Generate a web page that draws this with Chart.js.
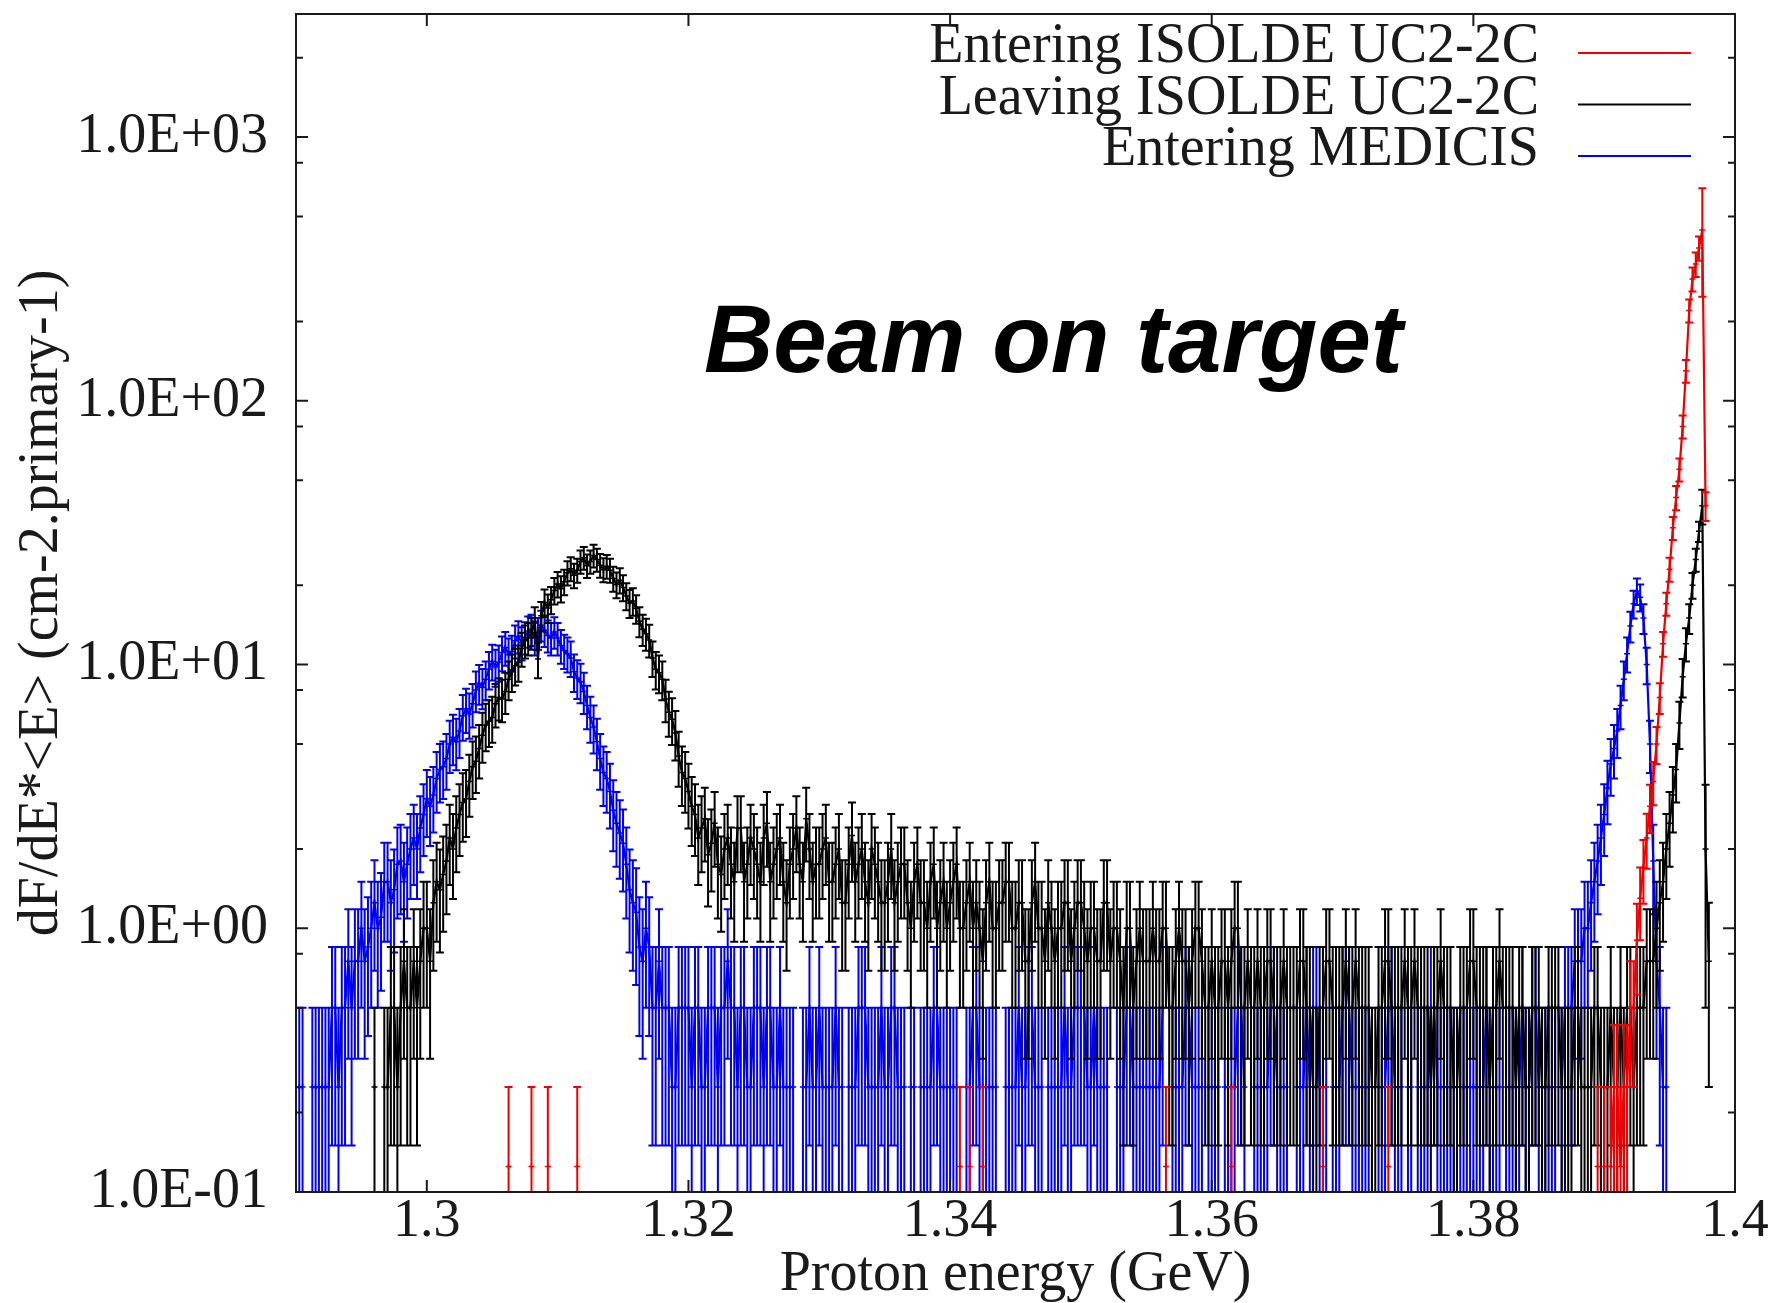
<!DOCTYPE html>
<html>
<head>
<meta charset="utf-8">
<title>Beam on target - proton energy</title>
<script src="https://cdn.jsdelivr.net/npm/chart.js@4.4.1/dist/chart.umd.min.js"></script>
<style>
  html, body { margin: 0; padding: 0; background: #fff; }
  #wrap { width: 1770px; height: 1303px; }
</style>
</head>
<body>
<div id="wrap"><canvas id="spectrum" width="1770" height="1303"></canvas></div>
<script>
// ------------------ DATA ------------------
// Proton energy (GeV), one value per bin (20 bins per row)
const energy = [
  1.29000,1.29025,1.29050,1.29075,1.29100,1.29125,1.29150,1.29175,1.29200,1.29225,1.29250,1.29275,1.29300,1.29325,1.29350,1.29375,1.29400,1.29425,1.29450,1.29475,
  1.29500,1.29525,1.29550,1.29575,1.29600,1.29625,1.29650,1.29675,1.29700,1.29725,1.29750,1.29775,1.29800,1.29825,1.29850,1.29875,1.29900,1.29925,1.29950,1.29975,
  1.30000,1.30025,1.30050,1.30075,1.30100,1.30125,1.30150,1.30175,1.30200,1.30225,1.30250,1.30275,1.30300,1.30325,1.30350,1.30375,1.30400,1.30425,1.30450,1.30475,
  1.30500,1.30525,1.30550,1.30575,1.30600,1.30625,1.30650,1.30675,1.30700,1.30725,1.30750,1.30775,1.30800,1.30825,1.30850,1.30875,1.30900,1.30925,1.30950,1.30975,
  1.31000,1.31025,1.31050,1.31075,1.31100,1.31125,1.31150,1.31175,1.31200,1.31225,1.31250,1.31275,1.31300,1.31325,1.31350,1.31375,1.31400,1.31425,1.31450,1.31475,
  1.31500,1.31525,1.31550,1.31575,1.31600,1.31625,1.31650,1.31675,1.31700,1.31725,1.31750,1.31775,1.31800,1.31825,1.31850,1.31875,1.31900,1.31925,1.31950,1.31975,
  1.32000,1.32025,1.32050,1.32075,1.32100,1.32125,1.32150,1.32175,1.32200,1.32225,1.32250,1.32275,1.32300,1.32325,1.32350,1.32375,1.32400,1.32425,1.32450,1.32475,
  1.32500,1.32525,1.32550,1.32575,1.32600,1.32625,1.32650,1.32675,1.32700,1.32725,1.32750,1.32775,1.32800,1.32825,1.32850,1.32875,1.32900,1.32925,1.32950,1.32975,
  1.33000,1.33025,1.33050,1.33075,1.33100,1.33125,1.33150,1.33175,1.33200,1.33225,1.33250,1.33275,1.33300,1.33325,1.33350,1.33375,1.33400,1.33425,1.33450,1.33475,
  1.33500,1.33525,1.33550,1.33575,1.33600,1.33625,1.33650,1.33675,1.33700,1.33725,1.33750,1.33775,1.33800,1.33825,1.33850,1.33875,1.33900,1.33925,1.33950,1.33975,
  1.34000,1.34025,1.34050,1.34075,1.34100,1.34125,1.34150,1.34175,1.34200,1.34225,1.34250,1.34275,1.34300,1.34325,1.34350,1.34375,1.34400,1.34425,1.34450,1.34475,
  1.34500,1.34525,1.34550,1.34575,1.34600,1.34625,1.34650,1.34675,1.34700,1.34725,1.34750,1.34775,1.34800,1.34825,1.34850,1.34875,1.34900,1.34925,1.34950,1.34975,
  1.35000,1.35025,1.35050,1.35075,1.35100,1.35125,1.35150,1.35175,1.35200,1.35225,1.35250,1.35275,1.35300,1.35325,1.35350,1.35375,1.35400,1.35425,1.35450,1.35475,
  1.35500,1.35525,1.35550,1.35575,1.35600,1.35625,1.35650,1.35675,1.35700,1.35725,1.35750,1.35775,1.35800,1.35825,1.35850,1.35875,1.35900,1.35925,1.35950,1.35975,
  1.36000,1.36025,1.36050,1.36075,1.36100,1.36125,1.36150,1.36175,1.36200,1.36225,1.36250,1.36275,1.36300,1.36325,1.36350,1.36375,1.36400,1.36425,1.36450,1.36475,
  1.36500,1.36525,1.36550,1.36575,1.36600,1.36625,1.36650,1.36675,1.36700,1.36725,1.36750,1.36775,1.36800,1.36825,1.36850,1.36875,1.36900,1.36925,1.36950,1.36975,
  1.37000,1.37025,1.37050,1.37075,1.37100,1.37125,1.37150,1.37175,1.37200,1.37225,1.37250,1.37275,1.37300,1.37325,1.37350,1.37375,1.37400,1.37425,1.37450,1.37475,
  1.37500,1.37525,1.37550,1.37575,1.37600,1.37625,1.37650,1.37675,1.37700,1.37725,1.37750,1.37775,1.37800,1.37825,1.37850,1.37875,1.37900,1.37925,1.37950,1.37975,
  1.38000,1.38025,1.38050,1.38075,1.38100,1.38125,1.38150,1.38175,1.38200,1.38225,1.38250,1.38275,1.38300,1.38325,1.38350,1.38375,1.38400,1.38425,1.38450,1.38475,
  1.38500,1.38525,1.38550,1.38575,1.38600,1.38625,1.38650,1.38675,1.38700,1.38725,1.38750,1.38775,1.38800,1.38825,1.38850,1.38875,1.38900,1.38925,1.38950,1.38975,
  1.39000,1.39025,1.39050,1.39075,1.39100,1.39125,1.39150,1.39175,1.39200,1.39225,1.39250,1.39275,1.39300,1.39325,1.39350,1.39375,1.39400,1.39425,1.39450,1.39475,
  1.39500,1.39525,1.39550,1.39575,1.39600,1.39625,1.39650,1.39675,1.39700,1.39725,1.39750,1.39775,1.39800,1.39825,1.39850,1.39875,1.39900,1.39925,1.39950,1.39975
];

// Entering ISOLDE UC2-2C (red)
const enteringIsoldeFlux = [
  null,null,null,null,null,null,null,null,null,null,null,null,null,null,null,null,null,null,null,null,
  null,null,null,null,null,null,null,null,null,null,null,null,null,null,null,null,null,null,null,null,
  null,null,null,null,null,null,null,null,null,null,null,null,null,null,null,null,null,null,null,null,
  null,null,null,null,null,0.125,null,null,null,null,null,null,0.125,null,null,null,null,0.125,null,null,
  null,null,null,null,null,null,0.125,null,null,null,null,null,null,null,null,null,null,null,null,null,
  null,null,null,null,null,null,null,null,null,null,null,null,null,null,null,null,null,null,null,null,
  null,null,null,null,null,null,null,null,null,null,null,null,null,null,null,null,null,null,null,null,
  null,null,null,null,null,null,null,null,null,null,null,null,null,null,null,null,null,null,null,null,
  null,null,null,null,null,null,null,null,null,null,null,null,null,null,null,null,null,null,null,null,
  null,null,null,null,null,null,null,null,null,null,null,null,null,null,null,null,null,null,null,null,
  null,null,null,0.125,null,null,0.125,null,null,null,0.125,null,null,null,null,null,null,null,null,null,
  null,null,null,null,null,null,null,null,null,null,null,null,null,null,null,null,null,null,null,null,
  null,null,null,null,null,null,null,null,null,null,null,null,null,null,null,null,null,null,null,null,
  null,null,null,null,null,null,0.125,null,null,null,null,null,null,null,null,null,null,null,null,null,
  null,null,null,null,null,null,0.125,null,null,null,null,null,null,null,null,null,null,null,null,null,
  null,null,null,null,null,null,null,null,null,null,null,null,null,null,0.125,null,null,null,null,null,
  null,null,null,null,null,null,null,null,null,null,null,null,null,null,0.125,null,null,null,null,null,
  null,null,null,null,null,null,null,null,null,null,null,null,null,null,null,null,null,null,null,null,
  null,null,null,null,null,null,null,null,null,null,null,null,null,null,null,null,null,null,null,null,
  null,null,null,null,null,null,null,null,null,null,null,null,null,null,null,null,null,null,0.125,null,
  0.125,null,0.125,0.25,0.25,0.125,0.25,0.25,0.5,0.5,0.9,1.3,1.7,2.2,2.9,3.6,5.0,7.5,12,17,
  23,33,43,55,80,130,220,290,330,380,444,40,null,null,null,null,null,null,null,null
];
const enteringIsoldeErr = [
  null,null,null,null,null,null,null,null,null,null,null,null,null,null,null,null,null,null,null,null,
  null,null,null,null,null,null,null,null,null,null,null,null,null,null,null,null,null,null,null,null,
  null,null,null,null,null,null,null,null,null,null,null,null,null,null,null,null,null,null,null,null,
  null,null,null,null,null,0.125,null,null,null,null,null,null,0.125,null,null,null,null,0.125,null,null,
  null,null,null,null,null,null,0.125,null,null,null,null,null,null,null,null,null,null,null,null,null,
  null,null,null,null,null,null,null,null,null,null,null,null,null,null,null,null,null,null,null,null,
  null,null,null,null,null,null,null,null,null,null,null,null,null,null,null,null,null,null,null,null,
  null,null,null,null,null,null,null,null,null,null,null,null,null,null,null,null,null,null,null,null,
  null,null,null,null,null,null,null,null,null,null,null,null,null,null,null,null,null,null,null,null,
  null,null,null,null,null,null,null,null,null,null,null,null,null,null,null,null,null,null,null,null,
  null,null,null,0.125,null,null,0.125,null,null,null,0.125,null,null,null,null,null,null,null,null,null,
  null,null,null,null,null,null,null,null,null,null,null,null,null,null,null,null,null,null,null,null,
  null,null,null,null,null,null,null,null,null,null,null,null,null,null,null,null,null,null,null,null,
  null,null,null,null,null,null,0.125,null,null,null,null,null,null,null,null,null,null,null,null,null,
  null,null,null,null,null,null,0.125,null,null,null,null,null,null,null,null,null,null,null,null,null,
  null,null,null,null,null,null,null,null,null,null,null,null,null,null,0.125,null,null,null,null,null,
  null,null,null,null,null,null,null,null,null,null,null,null,null,null,0.125,null,null,null,null,null,
  null,null,null,null,null,null,null,null,null,null,null,null,null,null,null,null,null,null,null,null,
  null,null,null,null,null,null,null,null,null,null,null,null,null,null,null,null,null,null,null,null,
  null,null,null,null,null,null,null,null,null,null,null,null,null,null,null,null,null,null,0.125,null,
  0.125,null,0.125,0.18,0.18,0.125,0.18,0.18,0.25,0.25,0.34,0.4,0.46,0.52,0.6,0.67,0.8,1.0,1.3,1.7,
  2.4,3.3,4.5,5.5,8,13,22,30,35,40,196,5,null,null,null,null,null,null,null,null
];

// Leaving ISOLDE UC2-2C (black)
const leavingIsoldeFlux = [
  null,null,null,null,null,null,null,null,null,null,null,null,null,null,null,null,null,null,null,null,
  null,null,null,null,0.25,null,null,0.25,0.25,0.5,0.5,0.25,0.5,0.75,0.5,0.5,0.75,0.5,0.75,1.0,
  1.0,0.75,1.25,1.5,1.4,1.6,1.8,2.2,2.0,2.4,2.7,3.0,3.1,3.6,4.1,4.3,4.8,5.4,5.9,6.1,
  6.3,7.1,7.5,7.4,7.9,8.8,9.4,9.9,10.2,11.5,12.3,12.6,13.2,14.6,10.5,15.3,17.2,16.4,17.6,19.1,
  20.2,19.4,20.6,22.3,23.1,21.8,22.8,24.6,25.4,23.7,24.6,25.9,25.0,23.8,22.9,23.6,22.8,21.2,20.1,20.9,
  19.6,18.2,17.1,17.4,16.3,14.6,13.6,13.1,12.4,10.6,9.6,9.3,8.8,7.4,6.6,6.2,5.5,4.5,3.9,3.7,
  3.3,2.9,2.7,2.2,2.4,2.6,1.9,2.1,2.5,1.75,1.6,2.0,2.2,1.75,1.5,2.4,2.4,1.5,1.75,2.2,
  2.0,1.75,1.5,2.2,2.5,1.5,1.75,2.0,2.2,1.5,1.25,1.75,2.0,2.4,1.75,1.5,2.6,2.0,1.5,1.75,
  1.75,2.0,2.2,1.5,1.5,1.75,2.0,1.25,1.25,1.75,2.25,1.5,1.75,2.0,1.5,1.25,2.0,1.75,1.5,1.25,
  1.25,1.5,2.0,1.25,1.5,1.75,1.75,1.25,1.0,1.5,1.75,1.25,1.25,1.0,1.5,1.75,1.0,1.25,1.5,1.0,
  1.25,1.5,1.75,1.0,1.0,1.25,1.5,1.0,1.25,1.0,0.75,1.25,1.5,1.0,1.0,1.25,1.25,1.5,1.5,1.0,
  1.0,1.25,1.25,0.75,0.75,1.25,1.5,1.0,1.0,0.75,1.25,1.0,0.75,1.0,1.0,1.25,1.25,0.75,1.0,1.25,
  1.25,1.0,0.75,1.0,1.0,0.75,0.75,1.25,1.25,0.75,1.0,1.0,0.75,0.5,1.0,1.0,0.5,0.75,1.0,0.75,
  0.75,0.75,1.0,0.75,0.75,1.0,1.0,0.5,0.5,0.75,1.0,0.75,0.75,0.5,0.75,1.0,1.0,0.75,0.5,0.5,
  0.75,0.5,0.5,0.75,0.75,0.5,0.75,1.0,1.0,0.5,0.5,0.75,0.5,0.5,0.75,0.5,0.5,0.75,0.75,0.5,
  0.5,0.5,0.75,0.5,0.5,0.5,0.5,0.75,0.75,0.5,0.5,0.25,0.25,0.5,0.5,0.75,0.75,0.5,0.5,0.5,
  0.5,0.75,0.5,0.5,0.75,0.5,0.5,0.5,0.5,0.25,0.25,0.5,0.5,0.75,0.75,0.5,0.5,0.5,0.5,0.75,
  0.5,0.5,0.75,0.5,0.5,0.5,0.5,0.25,0.5,0.5,0.75,0.5,0.5,0.5,0.25,0.25,0.5,0.5,0.5,0.75,
  0.75,0.5,0.5,0.5,0.5,0.25,0.5,0.5,0.75,0.5,0.5,0.5,0.5,0.25,0.5,0.5,0.25,0.25,0.5,0.5,
  0.5,0.25,0.25,0.5,0.5,0.5,0.5,0.25,0.25,0.25,0.25,0.5,0.5,0.25,0.25,0.25,0.25,0.5,0.5,0.25,
  0.25,0.25,0.5,0.25,0.25,0.5,0.25,0.5,0.5,0.25,0.5,0.5,0.5,0.75,0.75,0.75,1.0,1.25,1.5,2.0,
  2.5,3.2,4.0,6.0,9.0,12,15,20,25,32,40,2.0,0.75,null,null,null,null,null,null,null
];
const leavingIsoldeErr = [
  null,null,null,null,null,null,null,null,null,null,null,null,null,null,null,null,null,null,null,null,
  null,null,null,null,0.25,null,null,0.25,0.25,0.35,0.35,0.25,0.35,0.43,0.35,0.35,0.43,0.35,0.43,0.5,
  0.5,0.43,0.56,0.61,0.59,0.63,0.67,0.74,0.71,0.77,0.82,0.87,0.88,0.95,1.01,1.04,1.1,1.16,1.21,1.23,
  1.25,1.33,1.37,1.36,1.41,1.48,1.53,1.57,1.6,1.7,1.75,1.77,1.82,1.91,1.62,1.96,2.07,2.02,2.1,2.19,
  2.25,2.2,2.27,2.36,2.4,2.33,2.39,2.48,2.52,2.43,2.48,2.54,2.5,2.44,2.39,2.43,2.39,2.3,2.24,2.29,
  2.21,2.13,2.07,2.09,2.02,1.91,1.84,1.81,1.76,1.63,1.55,1.52,1.48,1.36,1.28,1.25,1.17,1.06,0.99,0.96,
  0.91,0.85,0.82,0.74,0.77,0.81,0.69,0.72,0.79,0.66,0.63,0.71,0.74,0.66,0.61,0.77,0.77,0.61,0.66,0.74,
  0.71,0.66,0.61,0.74,0.79,0.61,0.66,0.71,0.74,0.61,0.56,0.66,0.71,0.77,0.66,0.61,0.81,0.71,0.61,0.66,
  0.66,0.71,0.74,0.61,0.61,0.66,0.71,0.56,0.56,0.66,0.75,0.61,0.66,0.71,0.61,0.56,0.71,0.66,0.61,0.56,
  0.56,0.61,0.71,0.56,0.61,0.66,0.66,0.56,0.5,0.61,0.66,0.56,0.56,0.5,0.61,0.66,0.5,0.56,0.61,0.5,
  0.56,0.61,0.66,0.5,0.5,0.56,0.61,0.5,0.56,0.5,0.43,0.56,0.61,0.5,0.5,0.56,0.56,0.61,0.61,0.5,
  0.5,0.56,0.56,0.43,0.43,0.56,0.61,0.5,0.5,0.43,0.56,0.5,0.43,0.5,0.5,0.56,0.56,0.43,0.5,0.56,
  0.56,0.5,0.43,0.5,0.5,0.43,0.43,0.56,0.56,0.43,0.5,0.5,0.43,0.35,0.5,0.5,0.35,0.43,0.5,0.43,
  0.43,0.43,0.5,0.43,0.43,0.5,0.5,0.35,0.35,0.43,0.5,0.43,0.43,0.35,0.43,0.5,0.5,0.43,0.35,0.35,
  0.43,0.35,0.35,0.43,0.43,0.35,0.43,0.5,0.5,0.35,0.35,0.43,0.35,0.35,0.43,0.35,0.35,0.43,0.43,0.35,
  0.35,0.35,0.43,0.35,0.35,0.35,0.35,0.43,0.43,0.35,0.35,0.25,0.25,0.35,0.35,0.43,0.43,0.35,0.35,0.35,
  0.35,0.43,0.35,0.35,0.43,0.35,0.35,0.35,0.35,0.25,0.25,0.35,0.35,0.43,0.43,0.35,0.35,0.35,0.35,0.43,
  0.35,0.35,0.43,0.35,0.35,0.35,0.35,0.25,0.35,0.35,0.43,0.35,0.35,0.35,0.25,0.25,0.35,0.35,0.35,0.43,
  0.43,0.35,0.35,0.35,0.35,0.25,0.35,0.35,0.43,0.35,0.35,0.35,0.35,0.25,0.35,0.35,0.25,0.25,0.35,0.35,
  0.35,0.25,0.25,0.35,0.35,0.35,0.35,0.25,0.25,0.25,0.25,0.35,0.35,0.25,0.25,0.25,0.25,0.35,0.35,0.25,
  0.25,0.25,0.35,0.25,0.25,0.35,0.25,0.35,0.35,0.25,0.35,0.35,0.35,0.43,0.43,0.43,0.5,0.56,0.61,0.71,
  0.79,0.89,1.0,1.22,1.5,1.73,1.94,2.24,2.5,2.83,6,1.5,0.5,null,null,null,null,null,null,null
];

// Entering MEDICIS (blue)
const enteringMedicisFlux = [
  0.25,0.25,0.25,null,null,0.25,0.25,0.25,0.25,0.25,0.25,0.5,0.5,0.25,0.5,0.5,0.75,0.5,0.75,0.75,
  1.0,0.75,0.85,1.0,1.25,1.0,1.1,1.5,1.5,1.25,1.4,1.75,1.8,1.5,1.75,2.0,2.2,2.0,2.4,2.7,
  3.1,2.9,3.2,3.7,4.0,4.1,4.4,5.0,5.3,5.1,5.6,6.4,6.8,6.5,7.1,8.0,8.5,8.2,8.8,9.6,
  10.3,9.8,10.2,11.1,11.6,10.9,11.2,12.3,12.8,12.1,12.7,13.4,13.6,12.6,13.2,14.1,13.5,12.9,12.6,13.3,
  12.6,11.8,11.3,11.0,10.6,9.4,8.9,8.6,7.9,7.0,6.3,5.8,5.1,4.4,3.9,3.7,3.3,2.8,2.5,2.3,
  2.1,1.75,1.4,1.25,1.15,0.85,0.75,1.0,0.85,0.5,0.5,0.75,0.5,0.5,0.5,0.25,0.25,0.5,0.5,0.5,
  0.5,0.25,0.5,0.5,0.25,0.25,0.5,0.5,0.5,0.25,0.5,0.5,0.75,0.5,0.5,0.25,0.5,0.5,0.25,0.25,
  0.5,0.5,0.5,0.25,0.5,0.5,0.25,0.25,0.5,0.25,0.25,0.25,0.25,null,null,0.25,0.25,0.5,0.25,0.25,
  0.5,0.25,0.25,0.25,0.25,0.5,0.25,0.25,null,0.25,0.25,0.25,0.5,0.5,0.5,0.25,0.25,0.25,0.25,0.5,
  0.25,0.25,0.5,0.5,0.25,0.25,0.25,null,0.25,0.25,null,0.25,0.25,0.25,0.25,0.5,0.5,0.25,0.25,0.25,
  0.25,0.25,0.25,null,null,0.25,0.25,0.5,0.5,0.25,0.25,0.25,0.25,0.25,0.25,null,null,0.25,0.25,0.25,
  0.25,0.5,0.25,0.25,0.5,0.5,0.25,0.25,0.25,null,0.25,0.25,0.25,0.25,0.25,0.5,0.25,0.25,0.5,0.5,
  0.5,0.5,0.25,0.25,0.5,0.25,0.25,0.25,0.25,null,null,0.25,0.25,0.25,0.5,0.5,0.25,0.25,0.25,0.25,
  0.25,0.25,0.25,0.25,0.25,0.5,null,null,0.25,0.25,0.25,0.25,0.5,0.5,0.25,0.25,0.25,0.25,null,0.25,
  0.25,0.25,0.25,null,0.25,0.25,0.25,0.25,0.5,0.5,0.25,null,null,0.25,0.25,0.25,0.25,0.25,0.5,0.5,
  0.25,0.25,0.25,0.25,null,null,0.25,0.25,0.25,0.5,0.25,0.5,0.5,0.25,0.25,0.25,null,0.25,0.25,0.25,
  0.5,0.5,0.5,0.25,0.25,0.25,0.25,0.25,0.25,null,null,0.25,0.25,0.25,0.5,0.5,0.25,0.25,0.25,null,
  0.25,0.25,null,0.25,0.25,0.25,0.25,0.5,0.5,0.25,0.25,0.25,0.25,0.25,0.25,null,0.25,0.25,0.25,0.25,
  0.25,0.25,0.25,0.25,0.5,0.25,0.25,0.25,0.25,null,0.25,0.25,0.25,0.25,0.25,0.5,0.25,0.25,0.5,0.5,
  0.25,0.25,0.25,0.25,0.25,0.25,null,0.25,0.5,0.5,0.5,0.75,0.75,0.75,1.0,1.0,1.25,1.5,1.8,2.2,
  2.7,3.4,4.2,4.8,5.6,7.0,8.8,11,14,17,19,18,15,10,5.0,1.8,0.75,0.5,0.25,0.25,
  null,null,null,null,null,null,null,null,null,null,null,null,null,null,null,null,null,null,null,null
];
const enteringMedicisErr = [
  0.25,0.25,0.25,null,null,0.25,0.25,0.25,0.25,0.25,0.25,0.35,0.35,0.25,0.35,0.35,0.43,0.35,0.43,0.43,
  0.5,0.43,0.46,0.5,0.56,0.5,0.52,0.61,0.61,0.56,0.59,0.66,0.67,0.61,0.66,0.71,0.74,0.71,0.77,0.82,
  0.88,0.85,0.89,0.96,1.0,1.01,1.05,1.12,1.15,1.13,1.18,1.26,1.3,1.27,1.33,1.41,1.46,1.43,1.48,1.55,
  1.6,1.57,1.6,1.67,1.7,1.65,1.67,1.75,1.79,1.74,1.78,1.83,1.84,1.77,1.82,1.88,1.84,1.8,1.77,1.82,
  1.77,1.72,1.68,1.66,1.63,1.53,1.49,1.47,1.41,1.32,1.25,1.2,1.13,1.05,0.99,0.96,0.91,0.84,0.79,0.76,
  0.72,0.66,0.59,0.56,0.54,0.46,0.43,0.5,0.46,0.35,0.35,0.43,0.35,0.35,0.35,0.25,0.25,0.35,0.35,0.35,
  0.35,0.25,0.35,0.35,0.25,0.25,0.35,0.35,0.35,0.25,0.35,0.35,0.43,0.35,0.35,0.25,0.35,0.35,0.25,0.25,
  0.35,0.35,0.35,0.25,0.35,0.35,0.25,0.25,0.35,0.25,0.25,0.25,0.25,null,null,0.25,0.25,0.35,0.25,0.25,
  0.35,0.25,0.25,0.25,0.25,0.35,0.25,0.25,null,0.25,0.25,0.25,0.35,0.35,0.35,0.25,0.25,0.25,0.25,0.35,
  0.25,0.25,0.35,0.35,0.25,0.25,0.25,null,0.25,0.25,null,0.25,0.25,0.25,0.25,0.35,0.35,0.25,0.25,0.25,
  0.25,0.25,0.25,null,null,0.25,0.25,0.35,0.35,0.25,0.25,0.25,0.25,0.25,0.25,null,null,0.25,0.25,0.25,
  0.25,0.35,0.25,0.25,0.35,0.35,0.25,0.25,0.25,null,0.25,0.25,0.25,0.25,0.25,0.35,0.25,0.25,0.35,0.35,
  0.35,0.35,0.25,0.25,0.35,0.25,0.25,0.25,0.25,null,null,0.25,0.25,0.25,0.35,0.35,0.25,0.25,0.25,0.25,
  0.25,0.25,0.25,0.25,0.25,0.35,null,null,0.25,0.25,0.25,0.25,0.35,0.35,0.25,0.25,0.25,0.25,null,0.25,
  0.25,0.25,0.25,null,0.25,0.25,0.25,0.25,0.35,0.35,0.25,null,null,0.25,0.25,0.25,0.25,0.25,0.35,0.35,
  0.25,0.25,0.25,0.25,null,null,0.25,0.25,0.25,0.35,0.25,0.35,0.35,0.25,0.25,0.25,null,0.25,0.25,0.25,
  0.35,0.35,0.35,0.25,0.25,0.25,0.25,0.25,0.25,null,null,0.25,0.25,0.25,0.35,0.35,0.25,0.25,0.25,null,
  0.25,0.25,null,0.25,0.25,0.25,0.25,0.35,0.35,0.25,0.25,0.25,0.25,0.25,0.25,null,0.25,0.25,0.25,0.25,
  0.25,0.25,0.25,0.25,0.35,0.25,0.25,0.25,0.25,null,0.25,0.25,0.25,0.25,0.25,0.35,0.25,0.25,0.35,0.35,
  0.25,0.25,0.25,0.25,0.25,0.25,null,0.25,0.35,0.35,0.35,0.43,0.43,0.43,0.5,0.5,0.56,0.61,0.67,0.74,
  0.82,0.92,1.02,1.1,1.18,1.32,1.48,1.66,1.87,2.06,2.18,2.12,1.94,1.58,1.12,0.67,0.43,0.35,0.25,0.25,
  null,null,null,null,null,null,null,null,null,null,null,null,null,null,null,null,null,null,null,null
];

// Axes
const xTickValues = [1.30, 1.32, 1.34, 1.36, 1.38, 1.40];
const xTickLabels = ['1.3', '1.32', '1.34', '1.36', '1.38', '1.4'];
const yTickValues = [0.1, 1, 10, 100, 1000];
const yTickLabels = ['1.0E-01', '1.0E+00', '1.0E+01', '1.0E+02', '1.0E+03'];
const yMinorTicks = [0.2, 0.5, 0.8, 2, 5, 8, 20, 50, 80, 200, 500, 800, 2000];

const serif = '"Liberation Serif", "Times New Roman", serif';
const textColor = '#1a1a1a';

function toPoints(values) {
    return energy.map((e, i) => ({ x: e, y: values[i] }));
}

// ------------------ PLUGINS ------------------
// Vertical error bars with caps, drawn right after each dataset
const errorBars = {
    id: 'errorBars',
    afterDatasetDraw(chart, args) {
        const ds = chart.data.datasets[args.index];
        if (!ds.errors) return;
        const { ctx, chartArea: a, scales: { x, y } } = chart;
        ctx.save();
        ctx.beginPath();
        ctx.rect(a.left, a.top, a.right - a.left, a.bottom - a.top);
        ctx.clip();
        ctx.strokeStyle = ds.borderColor;
        ctx.lineWidth = 2;
        ctx.beginPath();
        ds.data.forEach((p, i) => {
            const err = ds.errors[i];
            if (p.y == null || err == null) return;
            const px = x.getPixelForValue(p.x);
            const top = y.getPixelForValue(p.y + err);
            const low = p.y - err;
            const bot = low > 0 ? y.getPixelForValue(low) : a.bottom + 10;
            ctx.moveTo(px, top);
            ctx.lineTo(px, bot);
            ctx.moveTo(px - 4, top);
            ctx.lineTo(px + 4, top);
            if (low > 0) {
                ctx.moveTo(px - 4, bot);
                ctx.lineTo(px + 4, bot);
            }
        });
        ctx.stroke();
        ctx.restore();
    }
};

// Frame, inward tick marks, legend and annotation
const decorations = {
    id: 'decorations',
    afterDraw(chart) {
        const { ctx, chartArea: a, scales: { x, y } } = chart;
        ctx.save();
        ctx.strokeStyle = textColor;
        ctx.lineWidth = 2;
        ctx.strokeRect(a.left, a.top, a.right - a.left, a.bottom - a.top);

        ctx.beginPath();
        xTickValues.forEach(v => {
            const px = x.getPixelForValue(v);
            ctx.moveTo(px, a.bottom); ctx.lineTo(px, a.bottom - 12);
            ctx.moveTo(px, a.top); ctx.lineTo(px, a.top + 12);
        });
        yTickValues.forEach(v => {
            const py = y.getPixelForValue(v);
            ctx.moveTo(a.left, py); ctx.lineTo(a.left + 12, py);
            ctx.moveTo(a.right, py); ctx.lineTo(a.right - 12, py);
        });
        yMinorTicks.forEach(v => {
            const py = y.getPixelForValue(v);
            ctx.moveTo(a.left, py); ctx.lineTo(a.left + 7, py);
            ctx.moveTo(a.right, py); ctx.lineTo(a.right - 7, py);
        });
        ctx.stroke();

        // Legend (text on the left, sample line on the right)
        ctx.font = '56px ' + serif;
        ctx.textAlign = 'right';
        ctx.textBaseline = 'alphabetic';
        chart.data.datasets.forEach((ds, i) => {
            const base = 62 + i * 51.5;
            ctx.fillStyle = textColor;
            ctx.fillText(ds.label, 1539, base);
            ctx.strokeStyle = ds.borderColor;
            ctx.lineWidth = 2;
            ctx.beginPath();
            ctx.moveTo(1578, base - 9);
            ctx.lineTo(1691, base - 9);
            ctx.stroke();
        });

        // Annotation
        ctx.font = 'italic bold 96px "Liberation Sans", Arial, sans-serif';
        ctx.textAlign = 'left';
        ctx.fillStyle = '#000';
        ctx.fillText('Beam on target', 704, 372);
        ctx.restore();
    }
};

// ------------------ CHART ------------------
const ctx = document.getElementById('spectrum').getContext('2d');
const spectrumChart = new Chart(ctx, {
    type: 'line',
    data: {
        datasets: [
            {
                label: 'Entering ISOLDE UC2-2C',
                data: toPoints(enteringIsoldeFlux),
                errors: enteringIsoldeErr,
                borderColor: '#f00000',
                backgroundColor: '#f00000'
            },
            {
                label: 'Leaving ISOLDE UC2-2C',
                data: toPoints(leavingIsoldeFlux),
                errors: leavingIsoldeErr,
                borderColor: '#000000',
                backgroundColor: '#000000'
            },
            {
                label: 'Entering MEDICIS',
                data: toPoints(enteringMedicisFlux),
                errors: enteringMedicisErr,
                borderColor: '#0000f0',
                backgroundColor: '#0000f0'
            }
        ]
    },
    options: {
        responsive: false,
        devicePixelRatio: 1,
        animation: false,
        layout: { padding: { top: 14, right: 35, left: 0, bottom: 0 } },
        datasets: {
            line: {
                borderWidth: 2.2,
                tension: 0,
                spanGaps: false,
                pointStyle: 'cross',
                pointRadius: 3,
                pointBorderWidth: 1.5,
                pointHoverRadius: 3
            }
        },
        scales: {
            x: {
                type: 'linear',
                min: 1.29,
                max: 1.40,
                grid: { display: false, drawTicks: false },
                border: { display: false },
                afterBuildTicks: scale => { scale.ticks = xTickValues.map(v => ({ value: v })); },
                afterFit: scale => {
                    scale.height = 111;
                    scale.paddingLeft = 0;
                    scale.paddingRight = 0;
                },
                ticks: {
                    autoSkip: false,
                    maxRotation: 0,
                    padding: 3,
                    color: textColor,
                    font: { family: serif, size: 54, lineHeight: 1 },
                    callback: (v, i) => xTickLabels[i]
                },
                title: {
                    display: true,
                    text: 'Proton energy (GeV)',
                    color: textColor,
                    padding: { top: 0, bottom: 0 },
                    font: { family: serif, size: 56, lineHeight: 1 }
                }
            },
            y: {
                type: 'logarithmic',
                min: 0.1,
                max: 2930,
                grid: { display: false, drawTicks: false },
                border: { display: false },
                afterBuildTicks: scale => { scale.ticks = yTickValues.map(v => ({ value: v })); },
                afterFit: scale => {
                    scale.width = 296;
                    scale.paddingTop = 0;
                    scale.paddingBottom = 0;
                },
                ticks: {
                    autoSkip: false,
                    padding: 28,
                    color: textColor,
                    font: { family: serif, size: 56, lineHeight: 1 },
                    callback: (v, i) => yTickLabels[i]
                },
                title: {
                    display: true,
                    text: 'dF/dE*<E> (cm-2.primary-1)',
                    color: textColor,
                    padding: { top: 14, bottom: 0 },
                    font: { family: serif, size: 56, lineHeight: 1 }
                }
            }
        },
        plugins: {
            legend: { display: false },
            tooltip: { enabled: false }
        }
    },
    plugins: [errorBars, decorations]
});
</script>
</body>
</html>
